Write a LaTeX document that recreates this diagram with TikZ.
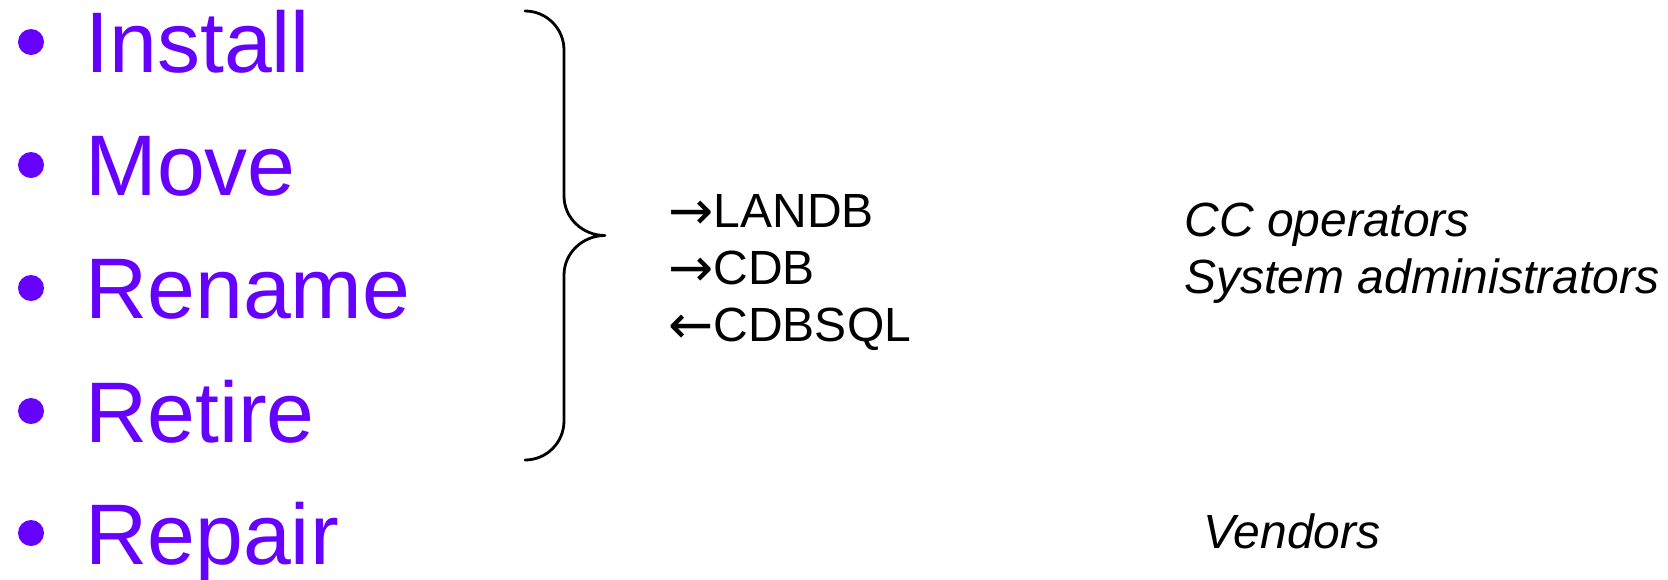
\documentclass[tikz,border=0pt]{standalone}
\usepackage{fontspec}
\setmainfont{Liberation Sans}
\newfontfamily\arrowfont{DejaVu Sans}
\newcommand{\flowarrow}[1]{\raisebox{-1pt}{\arrowfont\fontsize{27}{30}\selectfont #1}}
\definecolor{itemviolet}{RGB}{102,0,255}
\begin{document}
\begin{tikzpicture}[x=0.5pt,y=-0.5pt,
  item/.style={anchor=base west, inner sep=0pt, text=itemviolet, font=\fontsize{43}{50}\selectfont},
  dot/.style={circle, fill=itemviolet, inner sep=0pt, minimum size=13pt},
  flow/.style={anchor=base west, inner sep=0pt, font=\fontsize{24}{28.5}\selectfont},
  role/.style={anchor=base west, inner sep=0pt, font=\fontsize{24}{28.5}\selectfont\itshape},
  bracestroke/.style={line width=1.4pt, line cap=round, line join=round}]
\useasboundingbox (0,0) rectangle (1668,579);
% bullets
\node[dot] (b1) at (31,42) {};
\node[dot] (b2) at (31,165) {};
\node[dot] (b3) at (31,288) {};
\node[dot] (b4) at (31,411) {};
\node[dot] (b5) at (31,533) {};
% items
\node[item] (install) at (85,72) {Install};
\node[item] (move) at (85,195) {Move};
\node[item] (rename) at (85,318) {Rename};
\node[item] (retire) at (85,442) {Retire};
\node[item] (repair) at (85,564) {Repair};
% brace
\draw[bracestroke] (525,11) .. controls (546.5,11) and (564,28.5) .. (564,50)
  -- (564,196) .. controls (564,217.8) and (582.4,235.5) .. (605,235.5)
  .. controls (582.4,235.5) and (564,253.2) .. (564,275)
  -- (564,421) .. controls (564,442.5) and (546.5,460) .. (525,460);
% flows
\node[flow] (landb) at (668,227) {\flowarrow{→}LANDB};
\node[flow] (cdb) at (668,284) {\flowarrow{→}CDB};
\node[flow] (cdbsql) at (668,341) {\flowarrow{←}CDBSQL};
% roles
\node[role] (ccop) at (1184,236) {CC operators};
\node[role] (sysadm) at (1184,293) {System administrators};
\node[role] (vendors) at (1203,548) {Vendors};
\end{tikzpicture}
\end{document}
